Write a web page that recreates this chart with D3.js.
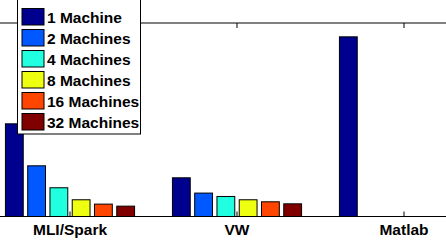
<!DOCTYPE html>
<html>
<head>
<meta charset="utf-8">
<script src="https://cdn.jsdelivr.net/npm/d3@7"></script>
<style>
  body { margin: 0; background: #fff; }
  svg { display: block; }
  text { font-family: "Liberation Sans", Arial, Helvetica, sans-serif; font-weight: bold; }
</style>
</head>
<body>
<script>
// systems on the x axis
var systems = ["MLI/Spark", "VW", "Matlab"];

// one series per cluster size
var series = ["1 Machine", "2 Machines", "4 Machines", "8 Machines", "16 Machines", "32 Machines"];
var colors = ["#00008F", "#0058FF", "#20FFDF", "#EFFF10", "#FF4600", "#800000"];

// values (Matlab only ran on one machine)
var mliSpark = [95.8, 52.4, 29.7, 17.3, 12.8, 10.7];
var vw = [40.0, 24.2, 20.7, 17.3, 15.2, 13.1];
var matlab = [185.7, 0, 0, 0, 0, 0];

var yMax = 200;

var width = 446,
  height = 243;

var values = [mliSpark, vw, matlab];

var rows = systems.map(function(s, i) {
  return {
    name: s,
    bars: series.map(function(k, j) {
      return { key: k, color: colors[j], value: values[i][j] };
    })
  };
});

var svg = d3
  .select("body")
  .append("svg")
  .attr("width", width)
  .attr("height", height);

// the axes box is wider than the cropped picture
var x = d3.scaleBand().domain(systems).range([-13.5, 487.5]).padding(0);

var xInner = d3
  .scaleBand()
  .domain(series)
  .range([x.bandwidth() * 0.1, x.bandwidth() * 0.9])
  .paddingInner(0.2)
  .paddingOuter(0.1);

var y = d3.scaleLinear().domain([0, yMax]).range([216.5, 23]);

var group = svg
  .append("g")
  .selectAll(".group")
  .data(rows)
  .enter()
  .append("g")
  .attr("class", "group")
  .attr("transform", function(d) {
    return "translate(" + x(d.name) + ",0)";
  });

group
  .selectAll("rect")
  .data(function(d) {
    return d.bars;
  })
  .enter()
  .append("rect")
  .attr("x", function(d) {
    return xInner(d.key);
  })
  .attr("y", function(d) {
    return y(d.value);
  })
  .attr("width", xInner.bandwidth())
  .attr("height", function(d) {
    return y(0) - y(d.value);
  })
  .attr("fill", function(d) {
    return d.color;
  })
  .attr("stroke", "#000")
  .attr("stroke-width", 1);

// box lines at top and bottom
svg
  .append("g")
  .selectAll("line.frame")
  .data([y(yMax), y(0)])
  .enter()
  .append("line")
  .attr("class", "frame")
  .attr("x1", 0)
  .attr("x2", width)
  .attr("y1", function(d) { return d; })
  .attr("y2", function(d) { return d; })
  .attr("stroke", "#000")
  .attr("stroke-width", 1);

// inward ticks at group centres, bottom and top
var xAxis = d3.axisBottom(x).tickSizeInner(-5).tickSizeOuter(0).tickPadding(7);

var gx = svg
  .append("g")
  .attr("transform", "translate(0," + y(0) + ")")
  .call(xAxis);
gx.select(".domain").remove();
gx.selectAll("text")
  .attr("fill", "#000")
  .style("font-size", "15.5px");

var gTop = svg
  .append("g")
  .attr("transform", "translate(0," + y(yMax) + ")")
  .call(d3.axisTop(x).tickSizeInner(-5).tickSizeOuter(0).tickFormat(""));
gTop.select(".domain").remove();

// legend
var legend = svg.append("g").attr("class", "legend");

legend
  .append("rect")
  .attr("x", 17.5)
  .attr("y", -3)
  .attr("width", 123)
  .attr("height", 137)
  .attr("fill", "#fff")
  .attr("stroke", "#000")
  .attr("stroke-width", 1);

var item = legend
  .selectAll(".item")
  .data(series)
  .enter()
  .append("g")
  .attr("class", "item")
  .attr("transform", function(d, i) {
    return "translate(22," + (8.5 + i * 21) + ")";
  });

item
  .append("rect")
  .attr("width", 22)
  .attr("height", 16.5)
  .attr("fill", function(d, i) {
    return colors[i];
  })
  .attr("stroke", "#000")
  .attr("stroke-width", 1);

item
  .append("text")
  .attr("x", 25)
  .attr("y", 14)
  .style("font-size", "15.5px")
  .attr("fill", "#000")
  .text(function(d) {
    return d;
  });
</script>
</body>
</html>
